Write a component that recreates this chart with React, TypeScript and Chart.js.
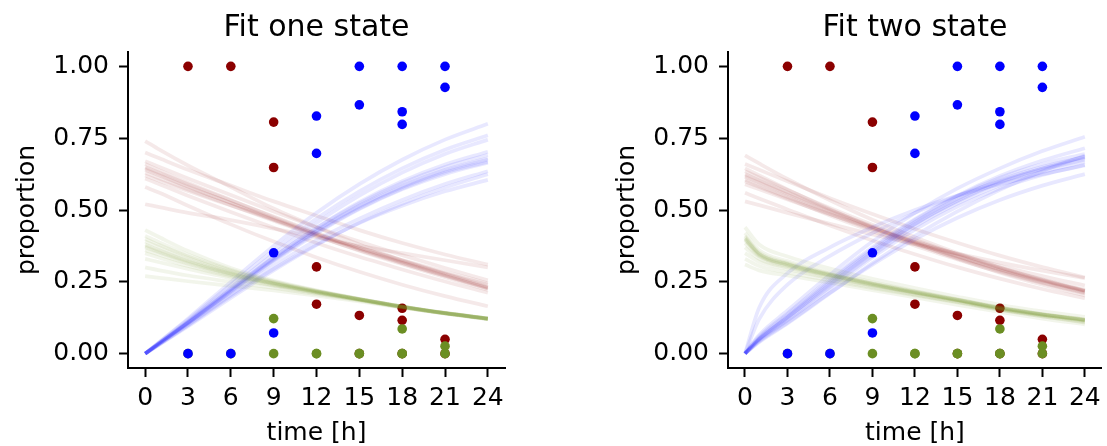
import React, { useEffect, useRef } from 'react';
import { Chart, registerables } from 'chart.js';

Chart.register(...registerables);

const FONT = "'DejaVu Sans', sans-serif";
Chart.defaults.font.family = FONT;
Chart.defaults.font.size = 25;
Chart.defaults.color = '#000';

const curveTimes = [0, 1, 3, 6, 9, 12, 15, 18, 21, 24];
const xTickValues = [0, 3, 6, 9, 12, 15, 18, 21, 24];
const yTickValues = [0, 0.25, 0.5, 0.75, 1.0];

// Observed proportions (one entry per sample)
const sampleTimes = [3, 6, 9, 9, 12, 12, 15, 15, 18, 18, 18, 21, 21];
const redObs = [1, 1, 0.806, 0.648, 0.302, 0.172, 0.133, 0, 0.158, 0.116, 0, 0.05, 0];
const greenObs = [0, 0, 0.122, 0, 0, 0, 0, 0, 0, 0.086, 0, 0.026, 0];
const blueObs = [0, 0, 0.072, 0.351, 0.697, 0.827, 0.866, 1, 0.842, 0.798, 1, 0.927, 1];

// Fit one state: sampled curves
const oneRedCurves = [
  [0.64, 0.62, 0.58, 0.525, 0.47, 0.415, 0.365, 0.32, 0.275, 0.23],
  [0.65, 0.63, 0.59, 0.533, 0.477, 0.421, 0.37, 0.323, 0.278, 0.232],
  [0.63, 0.61, 0.571, 0.517, 0.463, 0.409, 0.36, 0.315, 0.271, 0.227],
  [0.66, 0.638, 0.595, 0.535, 0.475, 0.417, 0.364, 0.316, 0.271, 0.228],
  [0.62, 0.602, 0.566, 0.516, 0.466, 0.416, 0.369, 0.326, 0.285, 0.245],
  [0.645, 0.624, 0.582, 0.524, 0.466, 0.41, 0.358, 0.311, 0.266, 0.222],
  [0.67, 0.65, 0.61, 0.552, 0.495, 0.44, 0.39, 0.343, 0.298, 0.255],
  [0.61, 0.59, 0.55, 0.493, 0.438, 0.385, 0.337, 0.293, 0.251, 0.212],
  [0.74, 0.71, 0.655, 0.58, 0.505, 0.44, 0.38, 0.325, 0.28, 0.24],
  [0.52, 0.51, 0.49, 0.465, 0.435, 0.405, 0.375, 0.35, 0.325, 0.3],
  [0.7, 0.68, 0.64, 0.585, 0.53, 0.48, 0.43, 0.385, 0.345, 0.31],
  [0.58, 0.56, 0.515, 0.45, 0.39, 0.335, 0.285, 0.24, 0.2, 0.165],
];
const oneBlueCurves = [
  [0, 0.036, 0.108, 0.22, 0.33, 0.43, 0.515, 0.585, 0.64, 0.68],
  [0, 0.037, 0.11, 0.224, 0.336, 0.437, 0.523, 0.594, 0.65, 0.692],
  [0, 0.035, 0.106, 0.216, 0.324, 0.422, 0.506, 0.575, 0.63, 0.668],
  [0, 0.036, 0.109, 0.223, 0.335, 0.438, 0.527, 0.6, 0.658, 0.703],
  [0, 0.035, 0.105, 0.214, 0.32, 0.418, 0.503, 0.572, 0.625, 0.665],
  [0, 0.036, 0.107, 0.218, 0.327, 0.426, 0.511, 0.58, 0.636, 0.676],
  [0, 0.04, 0.118, 0.24, 0.36, 0.47, 0.565, 0.645, 0.71, 0.76],
  [0, 0.032, 0.098, 0.2, 0.295, 0.38, 0.455, 0.515, 0.565, 0.605],
  [0, 0.033, 0.1, 0.205, 0.305, 0.395, 0.47, 0.535, 0.59, 0.635],
  [0, 0.041, 0.122, 0.25, 0.375, 0.49, 0.59, 0.675, 0.745, 0.8],
  [0, 0.038, 0.113, 0.23, 0.347, 0.455, 0.55, 0.63, 0.695, 0.745],
  [0, 0.031, 0.095, 0.194, 0.29, 0.378, 0.456, 0.522, 0.578, 0.625],
];
const oneGreenCurves = [
  [0.37, 0.352, 0.318, 0.276, 0.243, 0.215, 0.189, 0.163, 0.141, 0.122],
  [0.38, 0.36, 0.324, 0.28, 0.245, 0.216, 0.189, 0.164, 0.141, 0.122],
  [0.36, 0.344, 0.313, 0.273, 0.241, 0.214, 0.188, 0.163, 0.141, 0.122],
  [0.39, 0.37, 0.332, 0.284, 0.247, 0.217, 0.19, 0.164, 0.141, 0.122],
  [0.35, 0.334, 0.305, 0.268, 0.238, 0.212, 0.187, 0.162, 0.14, 0.121],
  [0.375, 0.356, 0.321, 0.278, 0.244, 0.215, 0.189, 0.163, 0.141, 0.122],
  [0.41, 0.387, 0.344, 0.292, 0.251, 0.219, 0.19, 0.164, 0.142, 0.123],
  [0.43, 0.405, 0.357, 0.298, 0.254, 0.22, 0.191, 0.165, 0.142, 0.123],
  [0.3, 0.29, 0.272, 0.25, 0.229, 0.207, 0.185, 0.161, 0.14, 0.121],
  [0.33, 0.318, 0.295, 0.263, 0.236, 0.211, 0.187, 0.162, 0.14, 0.121],
  [0.27, 0.264, 0.252, 0.236, 0.22, 0.202, 0.182, 0.16, 0.139, 0.12],
  [0.4, 0.378, 0.338, 0.288, 0.249, 0.218, 0.19, 0.164, 0.142, 0.122],
];

// Fit two state: sampled curves
const twoRedCurves = [
  [0.615, 0.595, 0.553, 0.493, 0.437, 0.386, 0.337, 0.292, 0.252, 0.216],
  [0.625, 0.604, 0.562, 0.5, 0.443, 0.391, 0.342, 0.296, 0.256, 0.219],
  [0.605, 0.585, 0.545, 0.486, 0.431, 0.381, 0.333, 0.288, 0.248, 0.213],
  [0.635, 0.613, 0.57, 0.507, 0.449, 0.396, 0.346, 0.3, 0.259, 0.222],
  [0.6, 0.58, 0.54, 0.481, 0.426, 0.376, 0.328, 0.284, 0.245, 0.21],
  [0.62, 0.599, 0.557, 0.496, 0.44, 0.388, 0.339, 0.294, 0.254, 0.218],
  [0.645, 0.62, 0.572, 0.503, 0.44, 0.383, 0.33, 0.282, 0.24, 0.203],
  [0.59, 0.572, 0.537, 0.485, 0.436, 0.39, 0.347, 0.306, 0.27, 0.237],
  [0.69, 0.662, 0.608, 0.534, 0.466, 0.405, 0.35, 0.3, 0.257, 0.219],
  [0.53, 0.517, 0.49, 0.452, 0.415, 0.381, 0.348, 0.317, 0.289, 0.263],
  [0.66, 0.64, 0.6, 0.541, 0.486, 0.434, 0.386, 0.341, 0.301, 0.265],
  [0.56, 0.54, 0.502, 0.446, 0.394, 0.346, 0.301, 0.261, 0.225, 0.193],
];
const twoBlueCurves = [
  [0, 0.05, 0.125, 0.24, 0.35, 0.45, 0.53, 0.595, 0.64, 0.675],
  [0, 0.052, 0.13, 0.248, 0.358, 0.458, 0.539, 0.604, 0.65, 0.685],
  [0, 0.048, 0.12, 0.232, 0.342, 0.442, 0.522, 0.586, 0.632, 0.667],
  [0, 0.055, 0.135, 0.255, 0.365, 0.465, 0.547, 0.612, 0.66, 0.695],
  [0, 0.045, 0.115, 0.225, 0.335, 0.432, 0.512, 0.575, 0.622, 0.657],
  [0, 0.05, 0.126, 0.242, 0.352, 0.452, 0.533, 0.598, 0.644, 0.68],
  [0, 0.06, 0.14, 0.26, 0.37, 0.468, 0.55, 0.618, 0.672, 0.715],
  [0, 0.12, 0.24, 0.34, 0.42, 0.49, 0.55, 0.6, 0.645, 0.685],
  [0, 0.16, 0.28, 0.37, 0.44, 0.5, 0.55, 0.59, 0.625, 0.655],
  [0, 0.04, 0.105, 0.21, 0.315, 0.41, 0.495, 0.57, 0.635, 0.69],
  [0, 0.065, 0.15, 0.275, 0.39, 0.49, 0.575, 0.645, 0.705, 0.755],
  [0, 0.042, 0.108, 0.212, 0.31, 0.398, 0.473, 0.535, 0.585, 0.625],
];
const twoGreenCurves = [
  [0.4, 0.345, 0.31, 0.274, 0.242, 0.213, 0.186, 0.158, 0.136, 0.117],
  [0.405, 0.348, 0.313, 0.276, 0.244, 0.215, 0.187, 0.159, 0.137, 0.118],
  [0.395, 0.342, 0.308, 0.272, 0.24, 0.212, 0.185, 0.157, 0.135, 0.116],
  [0.41, 0.352, 0.316, 0.279, 0.246, 0.216, 0.188, 0.16, 0.137, 0.118],
  [0.385, 0.338, 0.305, 0.27, 0.239, 0.211, 0.184, 0.157, 0.135, 0.116],
  [0.4, 0.346, 0.311, 0.275, 0.243, 0.214, 0.187, 0.159, 0.136, 0.117],
  [0.42, 0.36, 0.322, 0.283, 0.249, 0.218, 0.189, 0.161, 0.138, 0.119],
  [0.37, 0.33, 0.3, 0.266, 0.236, 0.208, 0.182, 0.155, 0.133, 0.114],
  [0.44, 0.38, 0.338, 0.296, 0.26, 0.228, 0.198, 0.17, 0.147, 0.128],
  [0.33, 0.305, 0.283, 0.255, 0.228, 0.203, 0.178, 0.152, 0.13, 0.11],
  [0.35, 0.32, 0.295, 0.262, 0.232, 0.205, 0.18, 0.153, 0.13, 0.108],
  [0.31, 0.29, 0.272, 0.247, 0.221, 0.196, 0.17, 0.145, 0.122, 0.102],
];

const RED = '#8b0000';
const BLUE = '#0000ff';
const GREEN = '#6b8e23';
const RED_A = 'rgba(139,0,0,0.085)';
const BLUE_A = 'rgba(0,0,255,0.09)';
const GREEN_A = 'rgba(107,142,35,0.09)';

type PanelProps = {
  title: string;
  red: number[][];
  blue: number[][];
  green: number[][];
  left: number;
  width: number;
  padRight: number;
};

function Panel({ title, red, blue, green, left, width, padRight }: PanelProps) {
  const ref = useRef<HTMLCanvasElement>(null);

  useEffect(() => {
    if (!ref.current) return;
    const curveSets = (curves: number[][], color: string) =>
      curves.map((c) => ({
        type: 'line' as const,
        data: curveTimes.map((t, i) => ({ x: t, y: c[i] })),
        borderColor: color,
        borderWidth: 3.75,
        pointRadius: 0,
        pointHoverRadius: 0,
        fill: false,
        cubicInterpolationMode: 'monotone' as const,
      }));
    const dots = (vals: number[], color: string) => ({
      type: 'scatter' as const,
      data: sampleTimes.map((t, i) => ({ x: t, y: vals[i] })),
      backgroundColor: color,
      borderColor: color,
      borderWidth: 0,
      pointRadius: 4.8,
      pointHoverRadius: 4.8,
    });

    const datasets: any[] = [
      ...curveSets(green, GREEN_A),
      ...curveSets(blue, BLUE_A),
      ...curveSets(red, RED_A),
      dots(blueObs, BLUE),
      dots(greenObs, GREEN),
      dots(redObs, RED),
    ];

    const chart = new Chart(ref.current, {
      type: 'scatter',
      data: { datasets },
      options: {
        responsive: false,
        animation: false,
        events: [],
        layout: { padding: { left: 0, right: padRight, top: 0, bottom: 0 } },
        plugins: {
          legend: { display: false },
          tooltip: { enabled: false },
          title: {
            display: true,
            text: title,
            fullSize: false,
            color: '#000',
            font: { family: FONT, size: 30, weight: 'normal', lineHeight: 1.2 },
            padding: { top: 10, bottom: 6 },
          },
        },
        scales: {
          x: {
            type: 'linear',
            min: -1.2,
            max: 25.2,
            afterFit: (s: any) => {
              s.height = 78;
            },
            afterBuildTicks: (s: any) => {
              s.ticks = xTickValues.map((v) => ({ value: v }));
            },
            ticks: {
              color: '#000',
              font: { family: FONT, size: 25 },
              padding: 6,
              maxRotation: 0,
              autoSkip: false,
              callback: (v: any) => String(v),
            },
            grid: {
              display: true,
              drawOnChartArea: false,
              drawTicks: true,
              tickLength: 9,
              tickWidth: 2,
              tickColor: '#000',
              color: '#000',
            },
            border: { display: true, color: '#000', width: 2 },
            title: {
              display: true,
              text: 'time [h]',
              color: '#000',
              font: { family: FONT, size: 25, lineHeight: 1 },
              padding: 0,
            },
          },
          y: {
            type: 'linear',
            min: -0.05,
            max: 1.05,
            afterFit: (s: any) => {
              s.width = 128;
            },
            afterBuildTicks: (s: any) => {
              s.ticks = yTickValues.map((v) => ({ value: v }));
            },
            ticks: {
              color: '#000',
              font: { family: FONT, size: 25 },
              padding: 10,
              callback: (v: any) => Number(v).toFixed(2),
            },
            grid: {
              display: true,
              drawOnChartArea: false,
              drawTicks: true,
              tickLength: 9,
              tickWidth: 2,
              tickColor: '#000',
              color: '#000',
            },
            border: { display: true, color: '#000', width: 2 },
            title: {
              display: true,
              text: 'proportion',
              color: '#000',
              font: { family: FONT, size: 25, lineHeight: 1 },
              padding: { top: 14.5, bottom: 0 },
            },
          },
        },
      } as any,
    });
    return () => chart.destroy();
  }, []);

  return (
    <canvas
      ref={ref}
      width={width}
      height={446}
      style={{ position: 'absolute', left, top: 0, width, height: 446 }}
    />
  );
}

export default function App() {
  return (
    <div
      style={{
        position: 'absolute',
        left: 0,
        top: 0,
        width: 1107,
        height: 446,
        background: '#fff',
        overflow: 'hidden',
      }}
    >
      <Panel
        title="Fit one state"
        red={oneRedCurves}
        blue={oneBlueCurves}
        green={oneGreenCurves}
        left={0}
        width={560}
        padRight={55}
      />
      <Panel
        title="Fit two state"
        red={twoRedCurves}
        blue={twoBlueCurves}
        green={twoGreenCurves}
        left={600}
        width={507}
        padRight={1.5}
      />
    </div>
  );
}
